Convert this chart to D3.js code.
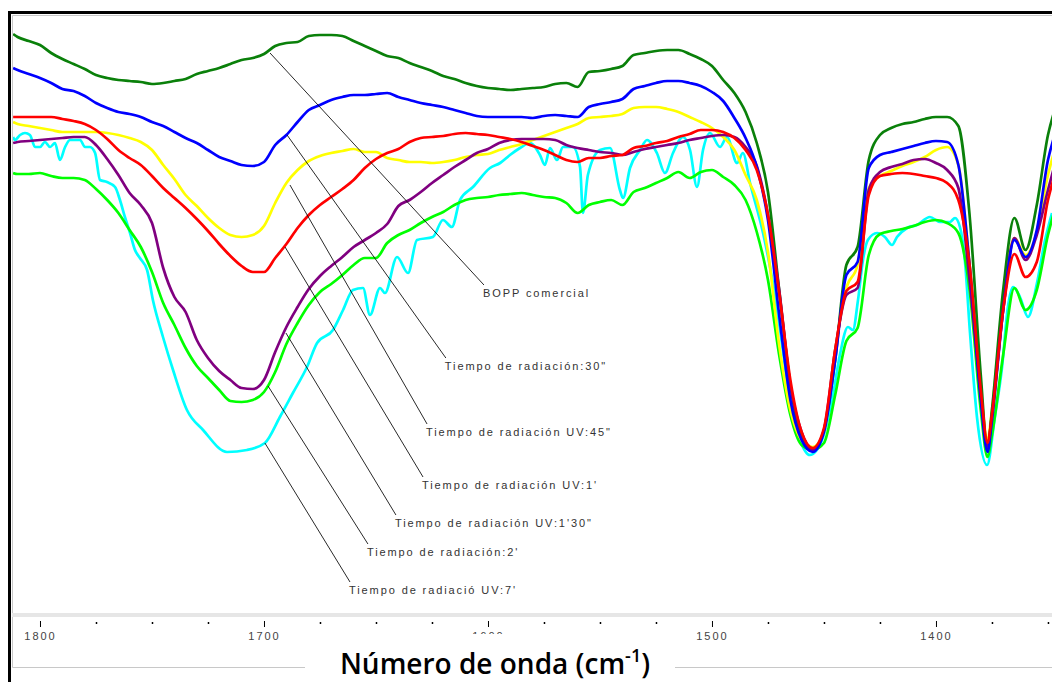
<!DOCTYPE html>
<html>
<head>
<meta charset="utf-8">
<script src="https://cdn.jsdelivr.net/npm/d3@7"></script>
<style>
body { margin: 0; background: #fff; }
svg { display: block; }
</style>
</head>
<body>
<script>
// wavenumbers (cm-1) shared by six of the spectra
var waves = [1812, 1810, 1805, 1800, 1795, 1790, 1785, 1780, 1775, 1770,
    1765, 1760, 1755, 1750, 1745, 1740, 1735, 1730, 1725, 1720,
    1715, 1710, 1705, 1700, 1695, 1690, 1685, 1680, 1675, 1670,
    1665, 1660, 1655, 1650, 1645, 1640, 1635, 1630, 1625, 1620,
    1615, 1610, 1605, 1600, 1595, 1590, 1585, 1580, 1575, 1570,
    1565, 1560, 1555, 1550, 1545, 1540, 1535, 1530, 1525, 1520,
    1515, 1510, 1505, 1500, 1495, 1490, 1485, 1480, 1475, 1470,
    1465, 1460, 1455, 1450, 1445, 1440, 1435, 1430, 1425, 1420,
    1415, 1410, 1405, 1400, 1395, 1390, 1385, 1380, 1377, 1375,
    1370, 1365, 1360, 1355, 1350, 1347]

// transmittance (arbitrary units)
var bopp = [58.6, 58.3, 57.9, 57.5, 56.7, 56.1, 55.6, 55.1, 54.5, 54.2,
    54.0, 53.9, 53.8, 53.6, 53.7, 53.9, 54.1, 54.6, 54.9, 55.2,
    55.6, 56.0, 56.2, 56.6, 57.4, 57.7, 57.8, 58.4, 58.5, 58.5,
    58.4, 57.9, 57.4, 56.9, 56.4, 56.2, 55.7, 55.3, 54.9, 54.4,
    54.1, 53.7, 53.4, 53.2, 53.1, 53.0, 53.1, 53.2, 53.3, 53.6,
    53.7, 53.3, 54.8, 54.9, 55.1, 55.4, 56.5, 56.7, 56.9, 57.0,
    57.0, 56.6, 56.1, 55.4, 54.0, 52.7, 50.8, 47.7, 42.8, 33.0,
    23.5, 18.2, 17.0, 19.0, 26.0, 35.5, 37.3, 46.0, 48.5, 49.2,
    49.6, 49.8, 50.1, 50.3, 50.3, 49.4, 40.5, 24.5, 17.0, 21.0,
    33.0, 40.2, 37.0, 41.5, 48.5, 51.0]

var t30s = [55.2, 55.0, 54.6, 54.2, 53.7, 53.1, 52.9, 52.4, 51.7, 51.2,
    50.8, 50.6, 50.3, 49.8, 49.4, 48.8, 48.2, 47.7, 47.0, 46.3,
    45.9, 45.5, 45.4, 45.8, 47.5, 48.5, 49.8, 51.0, 51.5, 52.0,
    52.3, 52.5, 52.5, 52.6, 52.7, 52.3, 52.0, 51.7, 51.5, 51.3,
    51.0, 50.7, 50.4, 50.3, 50.3, 50.3, 50.3, 50.2, 50.4, 50.5,
    50.4, 50.3, 51.3, 51.6, 51.8, 52.1, 53.1, 53.4, 53.7, 53.9,
    53.9, 53.7, 53.4, 52.8, 51.9, 50.2, 48.2, 45.3, 40.0, 30.5,
    22.0, 18.0, 16.8, 18.8, 26.0, 34.5, 35.8, 45.2, 46.5, 46.8,
    47.1, 47.4, 47.7, 47.9, 47.8, 45.5, 35.5, 22.0, 16.8, 20.0,
    31.0, 38.0, 36.3, 39.0, 46.0, 48.5]

var uv45s = [49.8, 49.6, 49.4, 49.2, 49.0, 48.8, 48.8, 48.8, 48.8, 48.7,
    48.5, 48.2, 47.8, 47.0, 45.5, 44.1, 42.5, 41.4, 40.2, 39.2,
    38.5, 38.3, 38.5, 39.4, 41.7, 43.7, 45.0, 45.9, 46.4, 46.7,
    46.9, 47.1, 46.8, 46.8, 46.2, 46.0, 45.8, 45.8, 45.7, 45.8,
    46.0, 46.3, 46.5, 46.6, 47.0, 47.3, 47.6, 48.0, 48.4, 48.8,
    49.2, 49.6, 50.2, 50.3, 50.4, 50.6, 51.2, 51.3, 51.3, 51.1,
    50.8, 50.3, 49.8, 49.2, 48.3, 47.0, 44.5, 42.0, 36.8, 27.5,
    21.0, 18.0, 17.3, 18.8, 27.0, 33.2, 35.5, 43.2, 44.4, 44.9,
    45.4, 45.8, 46.3, 47.0, 47.3, 45.5, 35.5, 23.0, 18.0, 21.0,
    32.0, 38.2, 36.5, 38.8, 44.5, 47.0]

var uv1m = [50.3, 50.3, 50.3, 50.3, 50.3, 50.1, 49.9, 49.6, 49.0, 48.1,
    47.0, 46.2, 45.5, 44.4, 43.2, 42.2, 41.2, 40.1, 38.9, 37.6,
    36.4, 35.4, 34.8, 34.8, 36.2, 37.6, 39.2, 40.5, 41.5, 42.3,
    43.1, 44.0, 45.2, 46.1, 46.7, 47.1, 47.8, 48.2, 48.3, 48.4,
    48.6, 48.7, 48.6, 48.5, 48.3, 48.1, 47.8, 47.4, 47.0, 46.5,
    46.0, 45.8, 46.2, 46.2, 46.4, 46.5, 47.2, 47.4, 47.7, 47.9,
    48.3, 48.6, 49.0, 49.0, 48.8, 48.2, 47.0, 45.0, 40.5, 32.7,
    24.0, 18.8, 17.2, 19.2, 27.0, 32.9, 33.8, 42.5, 44.4, 44.6,
    44.7, 44.6, 44.4, 44.2, 43.7, 42.0, 35.5, 23.0, 17.7, 20.5,
    31.0, 36.6, 34.3, 35.8, 42.0, 44.5]

var uv1m30s = [47.7, 47.8, 47.9, 48.0, 48.1, 48.2, 48.3, 48.3, 47.5, 46.1,
    44.5, 42.7, 41.5, 39.7, 35.2, 32.3, 30.8, 28.0, 26.2, 24.9,
    24.0, 23.2, 23.1, 24.0, 26.8, 29.3, 31.3, 33.1, 34.4, 35.4,
    36.3, 37.3, 38.0, 38.7, 39.6, 41.4, 42.0, 42.8, 43.7, 44.5,
    45.3, 46.0, 46.7, 47.1, 47.7, 48.0, 48.1, 48.1, 48.1, 48.0,
    47.5, 47.2, 47.0, 46.8, 46.7, 46.5, 46.8, 47.1, 47.3, 47.5,
    47.7, 48.0, 48.2, 48.4, 48.5, 48.3, 47.3, 45.4, 40.5, 33.0,
    23.5, 18.8, 17.0, 19.0, 27.0, 32.5, 33.2, 43.0, 44.8, 45.3,
    45.6, 46.0, 46.1, 45.7, 45.0, 43.2, 34.0, 22.5, 17.3, 20.5,
    31.0, 38.2, 36.0, 38.5, 43.0, 45.5]

var t2m = [44.7, 44.6, 44.6, 44.7, 44.4, 44.2, 44.2, 44.0, 43.1, 42.0,
    40.7, 39.0, 37.3, 34.8, 31.7, 29.5, 27.2, 25.4, 24.2, 23.0,
    21.9, 21.8, 22.0, 22.8, 24.8, 27.6, 29.7, 31.5, 32.8, 33.6,
    34.5, 35.5, 36.2, 36.2, 37.7, 38.5, 39.0, 39.7, 40.3, 40.8,
    41.5, 42.0, 42.2, 42.3, 42.5, 42.6, 42.7, 42.5, 42.3, 42.2,
    41.7, 40.7, 41.5, 41.8, 42.0, 41.5, 42.8, 43.2, 43.7, 44.2,
    44.8, 44.2, 44.8, 45.0, 44.3, 43.5, 42.0, 38.8, 34.0, 26.5,
    20.5, 17.5, 17.0, 17.7, 22.5, 27.9, 29.2, 36.5, 38.6, 38.9,
    39.1, 39.4, 39.8, 40.0, 39.7, 38.7, 33.0, 21.0, 16.3, 18.5,
    26.5, 33.2, 31.0, 33.0, 38.5, 41.0]

// the 7' spectrum is noisier, so it has its own wavenumbers
var uv7mWaves = [1812.0, 1811.2, 1808.9, 1806.7, 1804.5, 1802.2, 1800.0, 1797.8, 1795.5, 1793.3,
    1791.1, 1788.8, 1786.6, 1782.1, 1779.9, 1777.7, 1775.4, 1773.2, 1770.1, 1766.5,
    1764.3, 1762.1, 1759.8, 1757.6, 1755.4, 1752.2, 1749.6, 1745.1, 1740.6, 1734.4,
    1727.2, 1716.5, 1707.6, 1699.6, 1692.9, 1687.1, 1680.8, 1676.3, 1669.2, 1664.7,
    1660.3, 1655.8, 1652.7, 1648.2, 1646.0, 1640.6, 1635.7, 1631.7, 1624.6, 1620.1,
    1616.1, 1612.5, 1606.7, 1599.1, 1594.6, 1590.2, 1585.7, 1581.3, 1576.8, 1574.6,
    1572.3, 1569.2, 1566.5, 1562.1, 1558.9, 1557.6, 1555.4, 1550.0, 1545.5, 1541.1,
    1539.7, 1536.6, 1532.1, 1529.0, 1524.6, 1521.0, 1517.4, 1513.0, 1509.8, 1506.7,
    1504.0, 1500.9, 1496.4, 1493.3, 1488.8, 1486.2, 1483.0, 1477.2, 1472.8, 1469.6,
    1465.2, 1460.7, 1456.3, 1450.9, 1446.0, 1442.9, 1439.3, 1437.1, 1434.8, 1432.6,
    1430.4, 1426.3, 1422.8, 1419.6, 1417.4, 1412.9, 1408.5, 1402.7, 1398.2, 1393.8,
    1391.5, 1389.3, 1387.1, 1384.8, 1381.7, 1377.2, 1373.7, 1370.5, 1367.9, 1365.6,
    1362.5, 1358.9, 1354.9, 1351.3, 1348.2]

var uv7m = [48.3, 48.0, 48.5, 48.7, 48.5, 47.3, 47.3, 47.8, 47.3, 47.7,
    46.0, 47.3, 48.0, 48.0, 47.3, 47.3, 46.7, 44.0, 43.8, 43.3,
    42.0, 40.3, 38.7, 37.0, 36.2, 35.0, 32.0, 28.3, 25.0, 21.0,
    19.0, 16.8, 17.0, 17.7, 20.3, 22.7, 25.3, 27.7, 29.0, 31.0,
    33.0, 33.2, 30.5, 33.2, 32.7, 36.3, 34.7, 38.0, 38.3, 40.0,
    39.3, 42.0, 43.3, 45.2, 45.7, 46.5, 47.2, 47.7, 46.5, 45.5,
    47.2, 46.0, 47.3, 47.3, 45.3, 40.7, 44.5, 47.0, 47.2, 43.0,
    42.2, 45.2, 47.0, 48.0, 46.7, 44.7, 46.7, 48.3, 47.0, 43.3,
    47.0, 48.7, 47.3, 48.3, 45.7, 46.7, 43.7, 38.7, 33.7, 29.0,
    22.0, 18.0, 16.5, 18.0, 22.5, 26.5, 29.3, 29.0, 32.0, 36.0,
    38.0, 38.7, 38.3, 37.5, 38.3, 39.2, 39.5, 40.3, 39.8, 39.8,
    40.2, 39.3, 36.0, 28.7, 20.3, 15.5, 20.3, 25.3, 31.3, 33.3,
    32.3, 30.3, 33.7, 38.0, 40.7]

var labels = ['BOPP comercial', 'Tiempo de radiación:30"', 'Tiempo de radiación UV:45"',
    "Tiempo de radiación UV:1'", "Tiempo de radiación UV:1'30\"", "Tiempo de radiación:2'",
    "Tiempo de radiació UV:7'"]
var anchorWave = [1697.3, 1689.7, 1688.4, 1690.6, 1690.2, 1698.2, 1699.6]
var anchorValue = [56.7, 48.5, 43.5, 37.3, 28.7, 23.4, 17.7]
var labelWave = [1601.8, 1618.8, 1627.2, 1629.0, 1641.1, 1653.6, 1661.6]
var labelValue = [33.5, 26.2, 19.6, 14.3, 10.5, 7.6, 3.8]

var majorTicks = [1800, 1700, 1600, 1500, 1400]
var minorTicks = [1775, 1750, 1725, 1675, 1650, 1625, 1575, 1550, 1525, 1475, 1450, 1425, 1375, 1350]

var width = 1052;
var height = 682;

var svg = d3.select('body')
    .append('svg')
    .attr('width', width)
    .attr('height', height)

var x = d3.scaleLinear()
    .domain([1812.5, 1348.2])
    .range([12, 1052]);

var y = d3.scaleLinear()
    .domain([0, 60])
    .range([620, 20]);

svg.append('clipPath')
    .attr('id', 'plotClip')
    .append('rect')
    .attr('x', 13)
    .attr('y', 16)
    .attr('width', width - 13)
    .attr('height', 650)

// plot frame
svg.append('path')
    .attr('d', 'M12.5,667.5V15.5H1052M12.5,667.5H1052')
    .attr('fill', 'none')
    .attr('stroke', '#c8c8c8')
    .attr('stroke-width', 1)

svg.append('path')
    .attr('d', 'M9.5,682V12.5H1052')
    .attr('fill', 'none')
    .attr('stroke', '#000')
    .attr('stroke-width', 3)

// light band the axis ticks hang from
svg.append('line')
    .attr('x1', x.range()[0])
    .attr('x2', x.range()[1])
    .attr('y1', 615)
    .attr('y2', 615)
    .attr('stroke', '#e6e6e6')
    .attr('stroke-width', 4)

var series = [
    { name: 'uv7m', w: uv7mWaves, v: uv7m, color: '#00ffff' },
    { name: 't2m', w: waves, v: t2m, color: '#00ff00' },
    { name: 'uv45s', w: waves, v: uv45s, color: '#ffff00' },
    { name: 'bopp', w: waves, v: bopp, color: '#0a800a' },
    { name: 'uv1m30s', w: waves, v: uv1m30s, color: '#800080' },
    { name: 't30s', w: waves, v: t30s, color: '#0000ff' },
    { name: 'uv1m', w: waves, v: uv1m, color: '#ff0000' }
]

var plot = svg.append('g').attr('clip-path', 'url(#plotClip)')

var line = d3.line()
    .x(d => x(d[0]))
    .y(d => y(d[1]))
    .curve(d3.curveMonotoneX)

series.forEach(function (s) {
    var pts = s.w.map((w, i) => [w, s.v[i]]).filter(d => d[1] != null)
    plot.append('path')
        .datum(pts)
        .attr('fill', 'none')
        .attr('stroke', s.color)
        .attr('stroke-width', 2.7)
        .attr('stroke-linejoin', 'round')
        .attr('d', line)
})

// leader lines and labels
var notes = plot.append('g')
labels.forEach(function (t, i) {
    notes.append('line')
        .attr('x1', x(anchorWave[i]))
        .attr('y1', y(anchorValue[i]))
        .attr('x2', x(labelWave[i]))
        .attr('y2', y(labelValue[i]))
        .attr('stroke', '#111')
        .attr('stroke-width', 0.9)
    notes.append('text')
        .attr('x', x(labelWave[i]) - 1)
        .attr('y', y(labelValue[i]) + 12)
        .attr('font-family', 'Liberation Sans, Arial, sans-serif')
        .attr('font-size', 11)
        .attr('letter-spacing', 1.9)
        .attr('fill', '#333')
        .text(t)
})

// x axis
var xAxisGroup = svg.append('g')
    .attr('transform', 'translate(0,621)')

var xAxis = d3.axisBottom(x)
    .tickValues(majorTicks)
    .tickSize(6)
    .tickPadding(5)
    .tickFormat(d3.format('d'))

xAxis(xAxisGroup);
xAxisGroup.select('.domain').remove()
xAxisGroup.selectAll('line').attr('stroke', '#000')
xAxisGroup.selectAll('text')
    .attr('font-family', 'Liberation Sans, Arial, sans-serif')
    .attr('font-size', 11)
    .attr('letter-spacing', 2)
    .attr('fill', '#444')

var minorGroup = svg.append('g')
    .attr('transform', 'translate(0,622)')

var minorAxis = d3.axisBottom(x)
    .tickValues(minorTicks)
    .tickSize(2)
    .tickFormat('')

minorAxis(minorGroup);
minorGroup.select('.domain').remove()
minorGroup.selectAll('line').attr('stroke', '#000').attr('stroke-width', 1.5)

// axis title on its white box
svg.append('rect')
    .attr('x', 305)
    .attr('y', 634)
    .attr('width', 370)
    .attr('height', 48)
    .attr('fill', '#fff')

var title = svg.append('text')
    .attr('x', 495)
    .attr('y', 674)
    .attr('text-anchor', 'middle')
    .attr('font-family', 'Open Sans, Noto Sans, sans-serif')
    .attr('font-weight', 600)
    .attr('font-size', 28)
    .attr('fill', '#000')

title.append('tspan').text('Número de onda (cm')
title.append('tspan').attr('dy', -12).attr('font-size', 18).text('-1')
title.append('tspan').attr('dy', 12).text(')')
</script>
</body>
</html>
